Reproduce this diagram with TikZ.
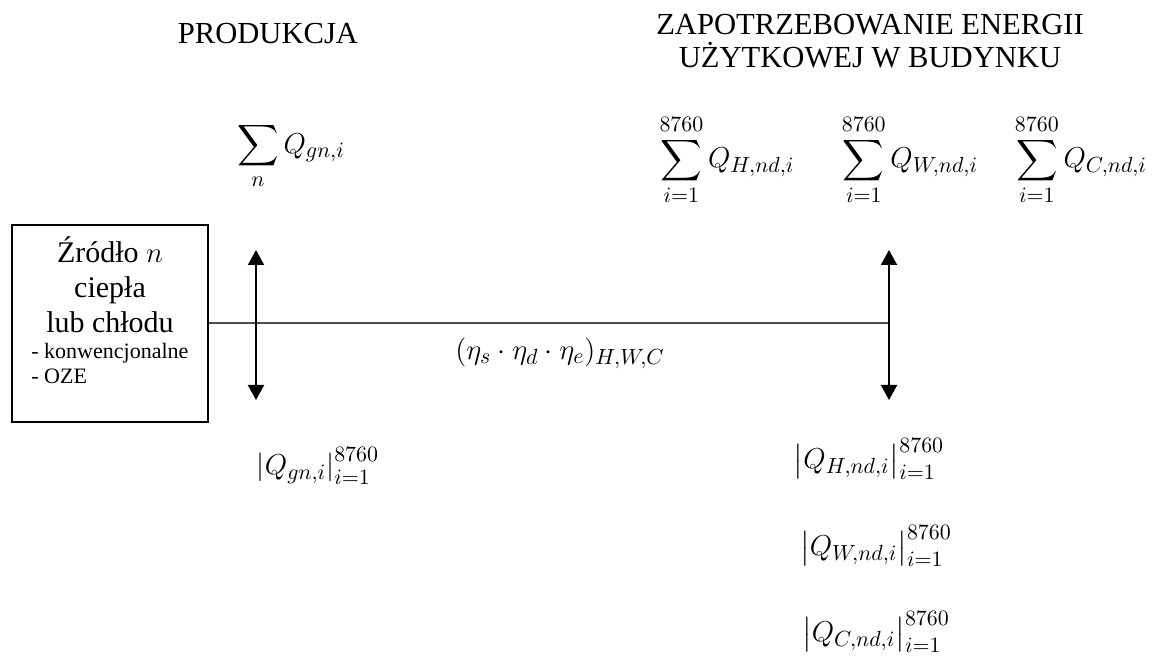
\documentclass[tikz,border=0pt]{standalone}
\usepackage{amsmath}
\usepackage{fontspec}
\setmainfont{Liberation Serif}
\usetikzlibrary{
    arrows.meta,
    positioning
}
\definecolor{lineC}{gray}{0.30}
\tikzset{
  srcbox/.style  = {draw, line width=1pt, minimum width=98pt,
                    minimum height=98.5pt, inner sep=0pt},
  boxtxt/.style  = {font=\fontsize{15}{17.5}\selectfont, align=center,
                    inner sep=0pt},
  boxsub/.style  = {font=\fontsize{11}{12.5}\selectfont, align=left,
                    inner sep=0pt},
  title/.style   = {font=\fontsize{15.3}{16.5}\selectfont, align=center},
  mlabel/.style  = {font=\fontsize{15.5}{18}\selectfont, inner sep=0pt},
  dblarr/.style  = {{Triangle[width=8pt,length=7.5pt]}-{Triangle[width=8pt,length=7.5pt]},
                    line width=1pt},
  bus/.style     = {line width=1pt, lineC}
}

\begin{document}
\begin{tikzpicture}[x=0.5pt, y=-0.5pt]
  \useasboundingbox (0,0) rectangle (1161,657);

  %% ── Titles ────────────────────────────────────────────────────
  \node[title] (tprod) at (268, 34) {PRODUKCJA};
  \node[title] (tneed) at (870, 41) {ZAPOTRZEBOWANIE ENERGII\\UŻYTKOWEJ W BUDYNKU};

  %% ── Source box ────────────────────────────────────────────────
  \node[srcbox] (src) at (110, 323.5) {};
  \node[boxtxt, below=6pt of src.north] (srcname)
    {Źródło $n$\\ciepła\\lub chłodu};
  \node[boxsub, anchor=north west] (srctypes)
    at ([xshift=10pt, yshift=-9.75pt]src.west)
    {- konwencjonalne\\- OZE};

  %% ── Line and arrows ───────────────────────────────────────────
  \coordinate (busR)    at (889, 323);
  \coordinate (prodTop) at (256, 250);
  \coordinate (prodBot) at (256, 400);
  \coordinate (needTop) at (889, 250);
  \coordinate (needBot) at (889, 400);
  \draw[bus] (src.east |- busR) -- (busR);
  \draw[dblarr] (prodBot) -- (prodTop);
  \draw[dblarr] (needBot) -- (needTop);

  %% ── Sums ──────────────────────────────────────────────────────
  \node[mlabel] (sgn) at (291, 156) {$\displaystyle\sum_{n} Q_{gn,i}$};
  \node[mlabel] (sH)  at (727, 160) {$\displaystyle\sum_{i=1}^{8760} Q_{H,nd,i}$};
  \node[mlabel] (sW)  at (910, 160) {$\displaystyle\sum_{i=1}^{8760} Q_{W,nd,i}$};
  \node[mlabel] (sC)  at (1081,160) {$\displaystyle\sum_{i=1}^{8760} Q_{C,nd,i}$};

  %% ── Efficiency ────────────────────────────────────────────────
  \node[mlabel] (eta) at (560, 353) {$(\eta_s\cdot\eta_d\cdot\eta_e)_{H,W,C}$};

  %% ── Hourly values ─────────────────────────────────────────────
  \node[mlabel] (hgn) at (318, 466) {$\left|Q_{gn,i}\right|_{i=1}^{8760}$};
  \node[mlabel] (hH)  at (869, 459) {$\left|Q_{H,nd,i}\right|_{i=1}^{8760}$};
  \node[mlabel] (hW)  at (876, 546) {$\left|Q_{W,nd,i}\right|_{i=1}^{8760}$};
  \node[mlabel] (hC)  at (876, 632) {$\left|Q_{C,nd,i}\right|_{i=1}^{8760}$};

\end{tikzpicture}
\end{document}
